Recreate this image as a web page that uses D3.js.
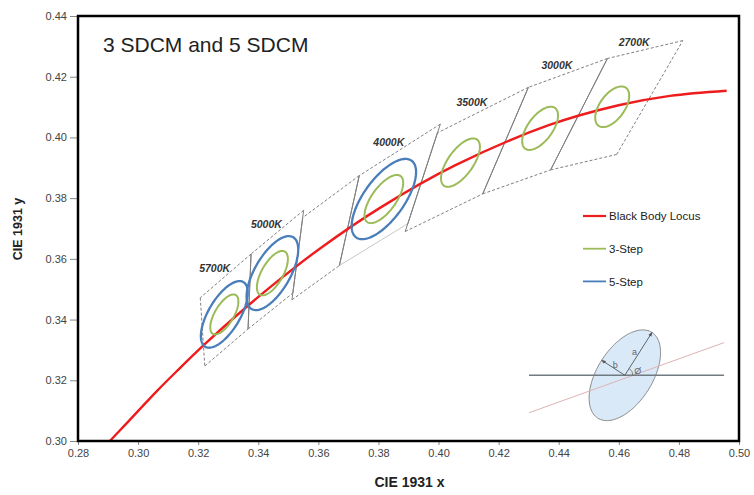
<!DOCTYPE html>
<html>
<head>
<meta charset="utf-8">
<script src="https://cdn.jsdelivr.net/npm/d3@7"></script>
<style>
    body { margin: 0; background: #fff; }
    svg { font-family: "Liberation Sans", Arial, sans-serif; }
    .tick text { font-size: 11px; fill: #444; }
    .tick line { stroke: #888; }
    .cct-label { font-size: 10.5px; font-style: italic; font-weight: bold; fill: #333; }
    .legend-label { font-size: 11.5px; fill: #222; }
</style>
</head>
<body>
<svg id="chart" width="754" height="495"></svg>
<script>
// black body (planckian) locus
const locusX = [0.2906, 0.2952, 0.3064, 0.3135, 0.3221, 0.3325, 0.3451, 0.3608, 0.3805, 0.4053, 0.4369, 0.4599, 0.4770, 0.4959];
const locusY = [0.3000, 0.3048, 0.3166, 0.3236, 0.3318, 0.3411, 0.3516, 0.3636, 0.3768, 0.3907, 0.4041, 0.4106, 0.4137, 0.4154];

// quadrangles, corners in order: top-right, top-left, bottom-left, bottom-right
const quadCct = [5700, 5000, 4500, 4000, 3500, 3000, 2700];
const quadLabels = ["5700K", "5000K", "", "4000K", "3500K", "3000K", "2700K"];
const quadCorners = [
    [[0.3376, 0.3616], [0.3207, 0.3472], [0.3222, 0.3247], [0.3366, 0.3369]],
    [[0.3551, 0.3760], [0.3376, 0.3616], [0.3366, 0.3369], [0.3515, 0.3487]],
    [[0.3736, 0.3874], [0.3548, 0.3736], [0.3512, 0.3465], [0.3670, 0.3578]],
    [[0.4006, 0.4044], [0.3736, 0.3874], [0.3670, 0.3578], [0.3898, 0.3716]],
    [[0.4299, 0.4165], [0.3996, 0.4015], [0.3889, 0.3690], [0.4147, 0.3814]],
    [[0.4562, 0.4260], [0.4299, 0.4165], [0.4147, 0.3814], [0.4373, 0.3893]],
    [[0.4813, 0.4319], [0.4562, 0.4260], [0.4373, 0.3893], [0.4593, 0.3944]]
];

// 1-step macadam ellipses (centre, semi axes, rotation in degrees)
const ellipseCct = [5700, 5000, 4000, 3500, 3000, 2700];
const ellipseCx = [0.3287, 0.3447, 0.3818, 0.4073, 0.4338, 0.4578];
const ellipseCy = [0.3417, 0.3553, 0.3797, 0.3917, 0.4030, 0.4101];
const ellipseA = [0.00248, 0.00274, 0.00313, 0.00313, 0.00278, 0.00258];
const ellipseB = [0.00105, 0.00118, 0.00134, 0.00139, 0.00136, 0.00137];
const ellipseTheta = [59.09, 59.62, 53.72, 54.00, 53.22, 53.70];
const fiveStepCct = [5700, 5000, 4000];

// explanatory inset: ellipse with axes a, b and angle
const insetCentre = [0.4620, 0.32165];
const insetAxes = [0.01675, 0.00917];
const insetTheta = 57.3;
const insetHorizontal = [[0.4301, 0.32165], [0.4950, 0.32165]];
const insetLocus = [[0.4301, 0.3093], [0.4950, 0.3324]];

const xTicks = d3.range(0.28, 0.5001, 0.02);
const yTicks = d3.range(0.30, 0.4401, 0.02);
const legendLabels = ["Black Body Locus", "3-Step", "5-Step"];

const colors = { locus: "#ee1c1c", three: "#9bbb59", five: "#4a7ebb", quad: "#808080" };

const margin = { top: 16, right: 15, bottom: 54, left: 78 };
const width = 754, height = 495;

const svg = d3.select("#chart");

const x = d3.scaleLinear().domain([0.28, 0.50]).range([margin.left, width - margin.right]);
const y = d3.scaleLinear().domain([0.30, 0.44]).range([height - margin.bottom, margin.top]);

// ellipse outline in data space
function ellipsePoints(cx, cy, a, b, thetaDeg) {
    const th = thetaDeg * Math.PI / 180;
    return d3.range(0, 121).map(i => {
        const t = i / 120 * 2 * Math.PI;
        return [cx + a * Math.cos(th) * Math.cos(t) - b * Math.sin(th) * Math.sin(t),
                cy + a * Math.sin(th) * Math.cos(t) + b * Math.cos(th) * Math.sin(t)];
    });
}

const line = d3.line().x(d => x(d[0])).y(d => y(d[1]));

// axes
svg.append("g")
    .attr("transform", `translate(0, ${y(0.30)})`)
    .call(d3.axisBottom(x).tickValues(xTicks).tickSize(4).tickPadding(4).tickFormat(d3.format(".2f")))
    .call(g => g.select(".domain").remove());

svg.append("g")
    .attr("transform", `translate(${x(0.28)}, 0)`)
    .call(d3.axisLeft(y).tickValues(yTicks).tickSize(8).tickPadding(3).tickFormat(d3.format(".2f")))
    .call(g => g.select(".domain").remove());

svg.append("text")
    .attr("x", (x(0.28) + x(0.50)) / 2 + 1)
    .attr("y", 487)
    .attr("text-anchor", "middle")
    .style("font-size", "14px")
    .style("font-weight", "bold")
    .style("fill", "#222")
    .text("CIE 1931 x");

svg.append("text")
    .attr("transform", "translate(22, 229) rotate(-90)")
    .attr("text-anchor", "middle")
    .style("font-size", "12.5px")
    .style("font-weight", "bold")
    .style("fill", "#222")
    .text("CIE 1931 y");

const plot = svg.append("g");

// quadrangles: top / bottom dashed, shared isotemperature lines solid
const quads = quadCct.map((c, i) => ({ cct: c, label: quadLabels[i], corners: quadCorners[i], i }));
const last = quads.length - 1;

quads.forEach(q => {
    const [tr, tl, bl, br] = q.corners;
    const edges = [
        { p: [tr, tl], type: "dash" },
        { p: [bl, br], type: q.cct === 4000 ? "faint" : "dash" },
        { p: [tl, bl], type: q.i === 0 ? "dash" : "solid" },
        { p: [br, tr], type: q.i === last ? "dash" : "solid" }
    ];
    plot.selectAll(null)
        .data(edges)
        .enter()
        .append("path")
        .attr("d", d => line(d.p))
        .attr("fill", "none")
        .attr("stroke", d => d.type === "faint" ? "#c8c8c8" : colors.quad)
        .attr("stroke-width", 1)
        .attr("stroke-dasharray", d => d.type === "dash" ? "3,2" : null);
});

// cct labels above each quadrangle top edge
plot.selectAll("text.cct-label")
    .data(quads.filter(q => q.label))
    .enter()
    .append("text")
    .classed("cct-label", true)
    .attr("text-anchor", "middle")
    .attr("x", d => (x(d.corners[0][0]) + x(d.corners[1][0])) / 2 - 11)
    .attr("y", d => (y(d.corners[0][1]) + y(d.corners[1][1])) / 2 - 4)
    .text(d => d.label);

// locus
plot.append("path")
    .datum(locusX.map((v, i) => [v, locusY[i]]))
    .attr("d", d3.line().x(d => x(d[0])).y(d => y(d[1])).curve(d3.curveCatmullRom))
    .attr("fill", "none")
    .attr("stroke", colors.locus)
    .attr("stroke-width", 2.4);

// ellipses
const ellipses = ellipseCct.map((c, i) => ({ cct: c, cx: ellipseCx[i], cy: ellipseCy[i], a: ellipseA[i], b: ellipseB[i], theta: ellipseTheta[i] }));

plot.selectAll("path.five-step")
    .data(ellipses.filter(e => fiveStepCct.includes(e.cct)))
    .enter()
    .append("path")
    .classed("five-step", true)
    .attr("d", e => line(ellipsePoints(e.cx, e.cy, 5 * e.a, 5 * e.b, e.theta)) + "Z")
    .attr("fill", "none")
    .attr("stroke", colors.five)
    .attr("stroke-width", 2.3);

plot.selectAll("path.three-step")
    .data(ellipses)
    .enter()
    .append("path")
    .classed("three-step", true)
    .attr("d", e => line(ellipsePoints(e.cx, e.cy, 3 * e.a, 3 * e.b, e.theta)) + "Z")
    .attr("fill", "none")
    .attr("stroke", colors.three)
    .attr("stroke-width", 2);

// legend
const legend = svg.append("g").attr("transform", "translate(583, 216)");
const lg = legend.selectAll("g")
    .data(legendLabels)
    .enter()
    .append("g")
    .attr("transform", (d, i) => `translate(0, ${i * 32.7})`);
lg.append("line")
    .attr("x1", 0).attr("x2", 23)
    .attr("stroke", (d, i) => [colors.locus, colors.three, colors.five][i])
    .attr("stroke-width", (d, i) => i === 0 ? 2.2 : 1.8);
lg.append("text")
    .classed("legend-label", true)
    .attr("x", 26)
    .attr("dy", "0.36em")
    .text(d => d);

// inset diagram
const inset = svg.append("g");
inset.append("path")
    .attr("d", line(ellipsePoints(insetCentre[0], insetCentre[1], insetAxes[0], insetAxes[1], insetTheta)) + "Z")
    .attr("fill", "#d9e9f8")
    .attr("stroke", "#8c8c8c")
    .attr("stroke-width", 1);
inset.append("path")
    .attr("d", line(insetLocus))
    .attr("stroke", "#dcb4b4")
    .attr("stroke-width", 1);
inset.append("path")
    .attr("d", line(insetHorizontal))
    .attr("stroke", "#707a80")
    .attr("stroke-width", 1.4);

svg.append("defs").append("marker")
    .attr("id", "arrow")
    .attr("viewBox", "0 0 10 10")
    .attr("refX", 9).attr("refY", 5)
    .attr("markerWidth", 5).attr("markerHeight", 5)
    .attr("orient", "auto")
    .append("path")
    .attr("d", "M0,1 L10,5 L0,9 Z")
    .attr("fill", "#555");

const th = insetTheta * Math.PI / 180;
const aEnd = [insetCentre[0] + insetAxes[0] * Math.cos(th), insetCentre[1] + insetAxes[0] * Math.sin(th)];
const bEnd = [insetCentre[0] - insetAxes[1] * Math.sin(th), insetCentre[1] + insetAxes[1] * Math.cos(th)];
[aEnd, bEnd].forEach(p => {
    inset.append("path")
        .attr("d", line([insetCentre, p]))
        .attr("stroke", "#555")
        .attr("stroke-width", 0.9)
        .attr("marker-end", "url(#arrow)");
});

const cxp = x(insetCentre[0]), cyp = y(insetCentre[1]);
const arcR = 8;
inset.append("path")
    .attr("d", `M${cxp + arcR},${cyp} A${arcR},${arcR} 0 0 0 ${cxp + arcR * Math.cos(th)},${cyp - arcR * Math.sin(th)}`)
    .attr("fill", "none")
    .attr("stroke", "#666")
    .attr("stroke-width", 0.8);

// axis letters beside the arrow midpoints
inset.selectAll("text.axis-letter")
    .data([["a", aEnd, -4, 1], ["b", bEnd, 2, 0]])
    .enter()
    .append("text")
    .attr("x", d => (cxp + x(d[1][0])) / 2 + d[2])
    .attr("y", d => (cyp + y(d[1][1])) / 2 + d[3])
    .attr("text-anchor", "middle")
    .style("font-size", "9px")
    .style("fill", "#666")
    .text(d => d[0]);
inset.append("text")
    .attr("x", cxp + 13).attr("y", cyp - 1.5)
    .attr("text-anchor", "middle")
    .style("font-size", "9px")
    .style("fill", "#666")
    .text("Ø");

// title and frame
svg.append("text")
    .attr("x", 103)
    .attr("y", 52)
    .style("font-size", "21px")
    .style("fill", "#222")
    .text("3 SDCM and 5 SDCM");

svg.append("rect")
    .attr("x", x(0.28)).attr("y", y(0.44))
    .attr("width", x(0.50) - x(0.28))
    .attr("height", y(0.30) - y(0.44))
    .attr("fill", "none")
    .attr("stroke", "#000")
    .attr("stroke-width", 2.5);
</script>
</body>
</html>
